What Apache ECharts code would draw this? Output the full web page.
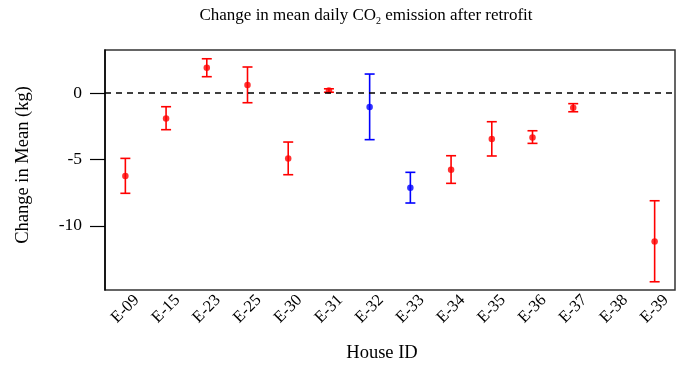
<!DOCTYPE html>
<html>
<head>
<meta charset="utf-8">
<script src="https://cdn.jsdelivr.net/npm/echarts@6/dist/echarts.min.js"></script>
<style>
  html, body { margin: 0; padding: 0; background: #fff; }
  #chart { width: 687px; height: 371px; }
</style>
</head>
<body>
<div id="chart"></div>
<script>
// House IDs along the x axis
const houses = ['E-09', 'E-15', 'E-23', 'E-25', 'E-30', 'E-31', 'E-32', 'E-33', 'E-34', 'E-35', 'E-36', 'E-37', 'E-38', 'E-39'];
// Change in mean daily CO2 emission (kg) and its interval bounds; E-38 has no estimate
const meanChange = [-6.25, -1.91, 1.91, 0.60, -4.92, 0.20, -1.05, -7.13, -5.77, -3.46, -3.34, -1.10, null, -11.17];
const lowerBound = [-7.55, -2.76, 1.23, -0.73, -6.15, 0.06, -3.51, -8.28, -6.80, -4.74, -3.79, -1.41, null, -14.21];
const upperBound = [-4.92, -1.03, 2.58, 1.96, -3.69, 0.32, 1.43, -5.97, -4.72, -2.16, -2.84, -0.80, null, -8.11];
// Marker group for each house: 'a' drawn red, 'b' drawn blue
const markerGroup = ['a', 'a', 'a', 'a', 'a', 'a', 'b', 'b', 'a', 'a', 'a', 'a', 'a', 'a'];
// Y axis tick values
const yTicks = [-10, -5, 0];

const groupColor = { a: '#ff0000', b: '#0000ff' };
const serif = '"Liberation Serif", "DejaVu Serif", serif';

const barData = [];
const pointData = [];
houses.forEach((h, i) => {
  if (meanChange[i] === null) return;
  barData.push({ value: [i, lowerBound[i], upperBound[i]], color: groupColor[markerGroup[i]] });
  pointData.push({ value: [i, meanChange[i]], itemStyle: { color: groupColor[markerGroup[i]] } });
});

const chart = echarts.init(document.getElementById('chart'), null, { renderer: 'canvas' });

chart.setOption({
  animation: false,
  backgroundColor: '#fff',
  title: {
    text: '{t|Change in mean daily CO}{s|2}{t| emission after retrofit}',
    left: 361,
    textAlign: 'center',
    top: 0,
    textStyle: {
      fontWeight: 'normal',
      rich: {
        t: { fontFamily: serif, fontSize: 17, fontWeight: 'normal', color: '#000', lineHeight: 21 },
        s: { fontFamily: serif, fontSize: 10, fontWeight: 'normal', color: '#000', lineHeight: 13, verticalAlign: 'bottom' }
      }
    }
  },
  grid: {
    left: 105, right: 12, top: 50, bottom: 81,
    show: true, borderColor: '#333', borderWidth: 1.5, backgroundColor: 'transparent'
  },
  xAxis: {
    type: 'category',
    data: houses,
    boundaryGap: true,
    axisLine: { show: false },
    axisTick: { show: false },
    splitLine: { show: false },
    axisLabel: {
      interval: 0,
      rotate: 45,
      align: 'center',
      verticalAlign: 'middle',
      margin: 19,
      fontFamily: serif,
      fontSize: 16.5,
      color: '#000'
    },
    name: 'House ID',
    nameLocation: 'middle',
    nameGap: 54,
    nameTextStyle: { fontFamily: serif, fontSize: 18.5, color: '#000', padding: [0, 16, 0, 0] }
  },
  yAxis: {
    type: 'value',
    min: -14.83,
    max: 3.24,
    axisLine: { show: true, lineStyle: { color: '#000', width: 1.5 } },
    axisTick: { show: true, length: 15, customValues: yTicks, lineStyle: { color: '#000', width: 1.2 } },
    splitLine: { show: false },
    axisLabel: {
      customValues: yTicks,
      margin: 23,
      fontFamily: serif,
      fontSize: 17.5,
      color: '#000'
    },
    name: 'Change in Mean (kg)',
    nameLocation: 'middle',
    nameGap: 72,
    nameTextStyle: { fontFamily: serif, fontSize: 18.5, color: '#000', padding: [0, 0, 0, 10] }
  },
  series: [
    {
      type: 'custom',
      data: barData,
      renderItem: function (params, api) {
        const x = api.value(0);
        const lo = api.coord([x, api.value(1)]);
        const hi = api.coord([x, api.value(2)]);
        const half = 5;
        const color = barData[params.dataIndex].color;
        const style = { stroke: color, lineWidth: 1.6, fill: null };
        return {
          type: 'group',
          children: [
            { type: 'line', shape: { x1: lo[0], y1: lo[1], x2: hi[0], y2: hi[1] }, style: style },
            { type: 'line', shape: { x1: lo[0] - half, y1: lo[1], x2: lo[0] + half, y2: lo[1] }, style: style },
            { type: 'line', shape: { x1: hi[0] - half, y1: hi[1], x2: hi[0] + half, y2: hi[1] }, style: style }
          ]
        };
      },
      z: 3
    },
    {
      type: 'scatter',
      data: pointData,
      symbol: 'circle',
      symbolSize: 6.5,
      z: 4,
      markLine: {
        silent: true,
        symbol: 'none',
        label: { show: false },
        lineStyle: { color: '#000', type: [6, 5], width: 1.5 },
        data: [{ yAxis: 0 }]
      }
    }
  ]
});
</script>
</body>
</html>
